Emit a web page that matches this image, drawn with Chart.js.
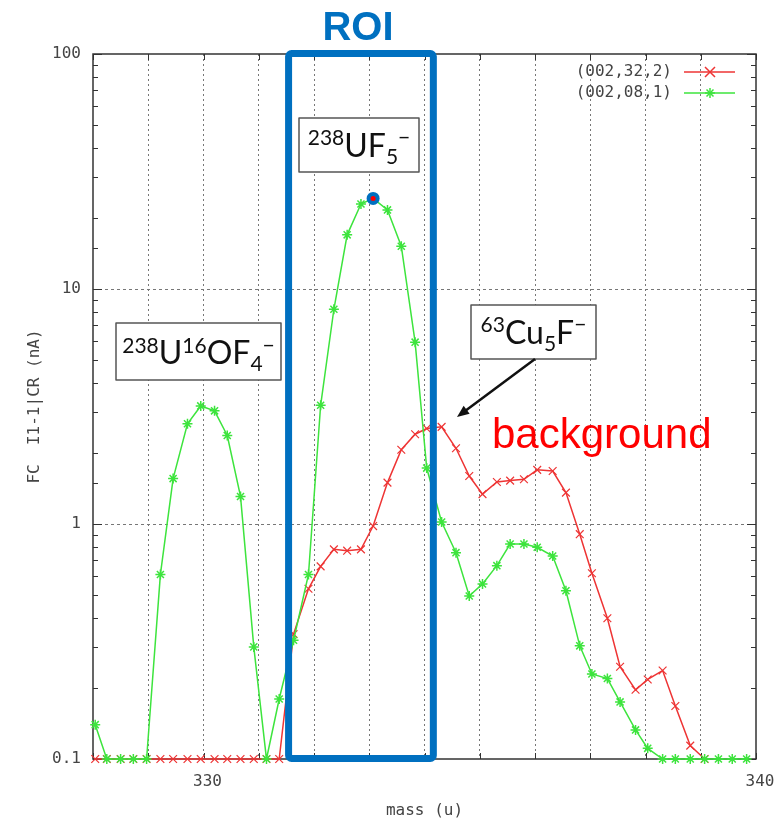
<!DOCTYPE html>
<html>
<head>
<meta charset="utf-8">
<script src="https://cdn.jsdelivr.net/npm/chart.js@4.4.1/dist/chart.umd.min.js"></script>
<style>
  html, body { margin: 0; padding: 0; background: #fff; }
</style>
</head>
<body>
<canvas id="myChart" width="776" height="821"></canvas>
<script>
// mass scan positions (u), same for both scans
var mass = [328.04, 328.25, 328.50, 328.73, 328.97, 329.22, 329.45, 329.71, 329.95, 330.20,
            330.43, 330.67, 330.91, 331.14, 331.37, 331.63, 331.90, 332.12, 332.36, 332.60,
            332.85, 333.07, 333.33, 333.58, 333.83, 334.04, 334.31, 334.57, 334.81, 335.05,
            335.31, 335.55, 335.80, 336.04, 336.32, 336.56, 336.81, 337.03, 337.31, 337.54,
            337.82, 338.04, 338.31, 338.54, 338.81, 339.07, 339.32, 339.57, 339.83];

// (002,08,1) - green
var scanGreen = [0.14, 0.1, 0.1, 0.1, 0.1, 0.61, 1.56, 2.67, 3.18, 3.03,
                 2.38, 1.31, 0.30, 0.1, 0.18, 0.32, 0.61, 3.2, 8.2, 17.0,
                 23.0, 24.3, 21.7, 15.2, 5.94, 1.73, 1.02, 0.755, 0.494, 0.556,
                 0.665, 0.822, 0.822, 0.796, 0.731, 0.52, 0.303, 0.23, 0.22, 0.175,
                 0.133, 0.111, 0.1, 0.1, 0.1, 0.1, 0.1, 0.1, 0.1];

// (002,32,2) - red (background)
var scanRed = [0.1, 0.1, 0.1, 0.1, 0.1, 0.1, 0.1, 0.1, 0.1, 0.1,
               0.1, 0.1, 0.1, 0.1, 0.1, 0.34, 0.53, 0.66, 0.78, 0.77,
               0.78, 0.98, 1.50, 2.07, 2.41, 2.55, 2.59, 2.10, 1.60, 1.34,
               1.51, 1.53, 1.55, 1.70, 1.68, 1.36, 0.905, 0.617, 0.397, 0.247,
               0.197, 0.218, 0.238, 0.168, 0.114, 0.1];

var seriesLabels = ['(002,32,2)', '(002,08,1)'];
var peakMass = [333.07];
var peakValue = [24.3];
var roiRange = [331.54, 334.16];
var xTickLabels = [330, 340];
var yTickLabels = [0.1, 1, 10, 100];

var RED = '#ee3434';
var GREEN = '#3de43d';
var BLUE = '#0070c0';
var MONO = '"DejaVu Sans Mono", monospace';

function toPoints(xs, ys) {
  var pts = [];
  for (var i = 0; i < ys.length; i++) pts.push({x: xs[i], y: ys[i]});
  return pts;
}

function isDecade(v) {
  var l = Math.log10(v);
  return Math.abs(l - Math.round(l)) < 1e-6;
}

// text with super/subscripts, centred on cx
function drawFormula(ctx, parts, cx, baseY, size) {
  var small = Math.round(size * 0.66);
  var total = 0;
  parts.forEach(function(p) {
    ctx.font = (p.s ? small : size) + 'px Lato';
    p.w = ctx.measureText(p.t).width;
    total += p.w;
  });
  var x = cx - total / 2;
  ctx.fillStyle = '#111';
  ctx.textAlign = 'left';
  ctx.textBaseline = 'alphabetic';
  parts.forEach(function(p) {
    ctx.font = (p.s ? small : size) + 'px Lato';
    var y = baseY;
    if (p.s == 'sup') y = baseY - size * 0.36;
    if (p.s == 'sub') y = baseY + size * 0.22;
    ctx.fillText(p.t, x, y);
    x += p.w;
  });
}

function labelBox(ctx, x, y, w, h, parts, size) {
  ctx.fillStyle = '#fff';
  ctx.fillRect(x, y, w, h);
  ctx.strokeStyle = '#555';
  ctx.lineWidth = 1.5;
  ctx.strokeRect(x, y, w, h);
  drawFormula(ctx, parts, x + w / 2, y + h * 0.72, size);
}

function drawCross(ctx, x, y, r) {
  ctx.beginPath();
  ctx.moveTo(x - r, y - r); ctx.lineTo(x + r, y + r);
  ctx.moveTo(x - r, y + r); ctx.lineTo(x + r, y - r);
  ctx.stroke();
}
function drawStar(ctx, x, y, r) {
  drawCross(ctx, x, y, r * 0.7);
  ctx.beginPath();
  ctx.moveTo(x - r, y); ctx.lineTo(x + r, y);
  ctx.moveTo(x, y - r); ctx.lineTo(x, y + r);
  ctx.stroke();
}

var gnuplotLook = {
  id: 'gnuplotLook',
  beforeDatasetsDraw: function(chart) {
    var ctx = chart.ctx, a = chart.chartArea;
    var xs = chart.scales.x, ys = chart.scales.y;
    ctx.save();
    ctx.strokeStyle = '#333';
    ctx.lineWidth = 1;
    // inward ticks
    ys.ticks.forEach(function(t) {
      var py = Math.round(ys.getPixelForValue(t.value)) + 0.5;
      var len = isDecade(t.value) ? 9 : 5;
      ctx.beginPath();
      ctx.moveTo(a.left, py); ctx.lineTo(a.left + len, py);
      ctx.moveTo(a.right, py); ctx.lineTo(a.right - len, py);
      ctx.stroke();
    });
    xs.ticks.forEach(function(t) {
      var px = Math.round(xs.getPixelForValue(t.value)) + 0.5;
      ctx.beginPath();
      ctx.moveTo(px, a.bottom); ctx.lineTo(px, a.bottom - 6);
      ctx.moveTo(px, a.top); ctx.lineTo(px, a.top + 6);
      ctx.stroke();
    });
    ctx.lineWidth = 1.5;
    ctx.strokeRect(a.left, a.top, a.right - a.left, a.bottom - a.top);
    ctx.restore();
  },
  afterDraw: function(chart) {
    var ctx = chart.ctx, a = chart.chartArea;
    var xs = chart.scales.x;
    ctx.save();

    // axis titles
    ctx.fillStyle = '#444';
    ctx.font = '16px ' + MONO;
    ctx.textAlign = 'center';
    ctx.textBaseline = 'middle';
    ctx.fillText('mass (u)', (a.left + a.right) / 2, 811);
    ctx.save();
    ctx.translate(35, (a.top + a.bottom) / 2);
    ctx.rotate(-Math.PI / 2);
    ctx.fillText('FC  I1-1|CR (nA)', 0, 0);
    ctx.restore();

    // legend
    var colors = [RED, GREEN];
    seriesLabels.forEach(function(lab, i) {
      var ly = 72 + i * 21;
      ctx.fillStyle = '#444';
      ctx.font = '16px ' + MONO;
      ctx.textAlign = 'right';
      ctx.fillText(lab, 672, ly);
      ctx.strokeStyle = colors[i];
      ctx.lineWidth = 1.5;
      ctx.beginPath();
      ctx.moveTo(684, ly); ctx.lineTo(735, ly);
      ctx.stroke();
      if (i == 0) drawCross(ctx, 710, ly, 5); else drawStar(ctx, 710, ly, 5);
    });

    // ROI frame
    var x0 = xs.getPixelForValue(roiRange[0]);
    var x1 = xs.getPixelForValue(roiRange[1]);
    ctx.strokeStyle = BLUE;
    ctx.lineWidth = 7;
    ctx.lineJoin = 'round';
    ctx.beginPath();
    ctx.roundRect(x0, a.top - 0.5, x1 - x0, a.bottom - a.top, 3);
    ctx.stroke();
    ctx.fillStyle = BLUE;
    ctx.font = 'bold 40px "Liberation Sans", Arial, sans-serif';
    ctx.textAlign = 'center';
    ctx.textBaseline = 'alphabetic';
    ctx.fillText('ROI', 358, 40);

    // peak labels
    labelBox(ctx, 299, 118, 120, 54,
      [{t: '238', s: 'sup'}, {t: 'UF'}, {t: '5', s: 'sub'}, {t: '\u2212', s: 'sup'}], 32);
    labelBox(ctx, 116, 323, 165, 57,
      [{t: '238', s: 'sup'}, {t: 'U'}, {t: '16', s: 'sup'}, {t: 'OF'}, {t: '4', s: 'sub'}, {t: '\u2212', s: 'sup'}], 32);
    labelBox(ctx, 471, 305, 125, 54,
      [{t: '63', s: 'sup'}, {t: 'Cu'}, {t: '5', s: 'sub'}, {t: 'F'}, {t: '\u2212', s: 'sup'}], 32);

    // arrow to the background peak
    var ax0 = 535, ay0 = 359, ax1 = 457, ay1 = 417;
    var ang = Math.atan2(ay1 - ay0, ax1 - ax0);
    ctx.strokeStyle = '#111';
    ctx.fillStyle = '#111';
    ctx.lineWidth = 2.5;
    ctx.beginPath();
    ctx.moveTo(ax0, ay0);
    ctx.lineTo(ax1 - 8 * Math.cos(ang), ay1 - 8 * Math.sin(ang));
    ctx.stroke();
    ctx.beginPath();
    ctx.moveTo(ax1, ay1);
    ctx.lineTo(ax1 - 12 * Math.cos(ang) + 5 * Math.sin(ang), ay1 - 12 * Math.sin(ang) - 5 * Math.cos(ang));
    ctx.lineTo(ax1 - 12 * Math.cos(ang) - 5 * Math.sin(ang), ay1 - 12 * Math.sin(ang) + 5 * Math.cos(ang));
    ctx.closePath();
    ctx.fill();

    ctx.fillStyle = '#ff0000';
    ctx.font = '42px "Liberation Sans", Arial, sans-serif';
    ctx.textAlign = 'left';
    ctx.fillText('background', 492, 448);
    ctx.restore();
  }
};

var ctx = document.getElementById('myChart');
var myChart = new Chart(ctx, {
  type: 'line',
  data: {
    datasets: [{
      label: 'peak',
      data: toPoints(peakMass, peakValue),
      showLine: false,
      pointRadius: 2.5,
      pointBackgroundColor: '#ff0000',
      pointBorderWidth: 0
    }, {
      label: 'peak circle',
      data: toPoints(peakMass, peakValue),
      showLine: false,
      pointRadius: 6.5,
      pointBackgroundColor: BLUE,
      pointBorderColor: BLUE,
      pointBorderWidth: 0
    }, {
      label: seriesLabels[1],
      data: toPoints(mass, scanGreen),
      borderColor: GREEN,
      borderWidth: 1.5,
      pointStyle: 'star',
      pointRadius: 5,
      pointBorderColor: GREEN,
      pointBorderWidth: 1.5,
      tension: 0,
      clip: {left: 10, right: 10, top: 10, bottom: 10}
    }, {
      label: seriesLabels[0],
      data: toPoints(mass, scanRed),
      borderColor: RED,
      borderWidth: 1.5,
      pointStyle: 'crossRot',
      pointRadius: 5.5,
      pointBorderColor: RED,
      pointBorderWidth: 1.2,
      tension: 0,
      clip: {left: 10, right: 10, top: 10, bottom: 10}
    }]
  },
  options: {
    responsive: false,
    animation: false,
    layout: { padding: { top: 54, right: 20, left: 0, bottom: 0 } },
    plugins: {
      legend: { display: false },
      tooltip: { enabled: false }
    },
    scales: {
      x: {
        type: 'linear',
        min: 328,
        max: 340,
        afterFit: function(s) { s.height = 62; s.paddingLeft = 0; s.paddingRight = 0; },
        ticks: {
          stepSize: 1,
          autoSkip: false,
          maxRotation: 0,
          padding: 13,
          labelOffset: 4,
          color: '#444',
          font: { family: MONO, size: 16 },
          callback: function(v) { return xTickLabels.indexOf(v) >= 0 ? String(v) : ''; }
        },
        grid: {
          drawTicks: false,
          lineWidth: 1,
          color: function(c) {
            return (c.tick && c.tick.value > 328 && c.tick.value < 340) ? '#777' : 'rgba(0,0,0,0)';
          }
        },
        border: { display: false, dash: [2, 3] }
      },
      y: {
        type: 'logarithmic',
        min: 0.1,
        max: 100,
        afterFit: function(s) { s.width = 93; s.paddingTop = 0; s.paddingBottom = 0; },
        ticks: {
          autoSkip: false,
          padding: 12,
          color: '#444',
          font: { family: MONO, size: 16 },
          callback: function(v) {
            for (var i = 0; i < yTickLabels.length; i++) {
              if (Math.abs(v - yTickLabels[i]) < 1e-9) return String(yTickLabels[i]);
            }
            return '';
          }
        },
        grid: {
          drawTicks: false,
          lineWidth: 1,
          color: function(c) {
            if (!c.tick) return 'rgba(0,0,0,0)';
            var v = c.tick.value;
            return (isDecade(v) && v > 0.1 && v < 100) ? '#777' : 'rgba(0,0,0,0)';
          }
        },
        border: { display: false, dash: [3, 3] }
      }
    }
  },
  plugins: [gnuplotLook]
});
</script>
</body>
</html>
